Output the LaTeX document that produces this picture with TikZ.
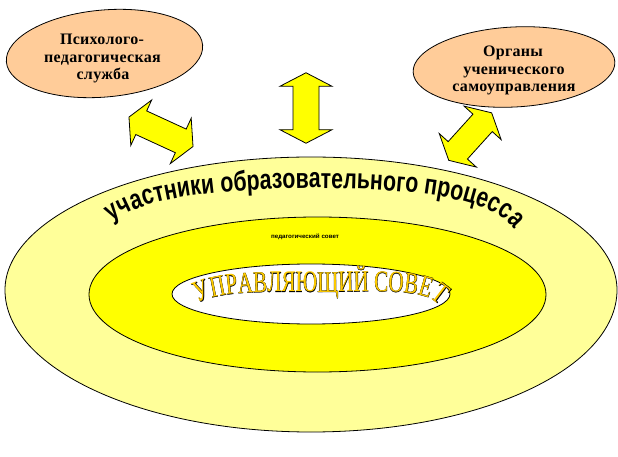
\documentclass[tikz,border=0pt]{standalone}
\usepackage{fontspec}
\usepackage{graphicx}
\setmainfont{Liberation Serif}
\setsansfont{Liberation Sans}
\newfontfamily\arcfont[FakeStretch=0.76]{Liberation Sans}
\newfontfamily\councilfont[FakeStretch=0.7]{Liberation Serif}
\newfontfamily\councilbold[FakeStretch=0.7,FakeBold=1.1]{Liberation Serif}
\newfontfamily\bubfont[LetterSpace=2]{Liberation Serif}
\usetikzlibrary{decorations.text,shapes.geometric}
\definecolor{paleyel}{RGB}{255,255,153}
\definecolor{brightyel}{RGB}{255,255,0}
\definecolor{peach}{RGB}{255,204,153}
\definecolor{goldtxt}{RGB}{255,204,0}
\tikzset{
  ringline/.style={draw=black, line width=0.8pt},
  bubble/.style={ellipse, draw=black, line width=0.8pt, fill=peach, inner sep=0pt},
  bubtext/.style={anchor=base, inner sep=0pt, font=\bubfont\bfseries\fontsize{16}{17.5}\selectfont},
  arrowfill/.style={draw=black, line width=0.8pt, fill=brightyel, line join=miter},
}
\newcommand\mydblarrow[5]{%
  \begin{scope}[shift={(#1,#2)},rotate=#3]
  \draw[arrowfill] (-#4,0) -- (-#4+13.5,-#5) -- (-#4+13.5,-13) -- (#4-13.5,-13)
    -- (#4-13.5,-#5) -- (#4,0) -- (#4-13.5,#5) -- (#4-13.5,13)
    -- (-#4+13.5,13) -- (-#4+13.5,#5) -- cycle;
  \end{scope}}
\begin{document}
\begin{tikzpicture}[x=1pt,y=-1pt]
\useasboundingbox (0,0) rectangle (618,457);
% rings
\draw[ringline, fill=paleyel] (5,290)
  arc[start angle=180, end angle=360, x radius=306, y radius=133]
  arc[start angle=0, end angle=180, x radius=306, y radius=142] -- cycle;
\draw[ringline, fill=brightyel] (317.5,294.5) ellipse[x radius=228.5, y radius=77.5];
\draw[ringline, fill=white] (311,294) ellipse[x radius=139, y radius=30];
% arc text
\path[decorate, decoration={text along path,
   text={|\arcfont\bfseries\fontsize{28}{28}\selectfont|участники образовательного процесса},
   text align={fit to path}}]
  (112,222) .. controls (145,196) and (225,189) .. (312,188)
  .. controls (400,188) and (492,196) .. (514,229);
% council text
\path[decorate, decoration={text along path, text color=black,
   text={|\councilbold\fontsize{30}{30}\selectfont|УПРАВЛЯЮЩИЙ СОВЕТ},
   text align={fit to path}}]
  (198,303) .. controls (222,290) and (270,292) .. (318,292)
  .. controls (370,292) and (420,288) .. (436,302);
\path[decorate, decoration={text along path, text color=goldtxt,
   text={|\councilfont\fontsize{30}{30}\selectfont|УПРАВЛЯЮЩИЙ СОВЕТ},
   text align={fit to path}}]
  (198,303) .. controls (222,290) and (270,292) .. (318,292)
  .. controls (370,292) and (420,288) .. (436,302);
% tiny text
\node[inner sep=0pt] (pedsov) at (305,237)
  {\resizebox{68pt}{4.5pt}{\sffamily\bfseries педагогический совет}};
% bubbles
\node[bubble, minimum width=197pt, minimum height=87pt, rotate=5] (psy) at (104.5,53.5) {};
\node[bubble, minimum width=202pt, minimum height=80pt, rotate=3] (org) at (514,67) {};
\node[bubtext] (psy1) at (102,45) {Психолого-};
\node[bubtext] (psy2) at (102.5,62.5) {педагогическая};
\node[bubtext] (psy3) at (103,80) {служба};
\node[bubtext] (org1) at (513,57) {Органы};
\node[bubtext] (org2) at (514,74.5) {ученического};
\node[bubtext] (org3) at (514,92) {самоуправления};
% arrows
\mydblarrow{306}{108}{90}{35.25}{26}
\mydblarrow{161}{131.8}{-24.7}{35.25}{25}
\mydblarrow{470.2}{136.6}{47.9}{32}{25}
\end{tikzpicture}
\end{document}
